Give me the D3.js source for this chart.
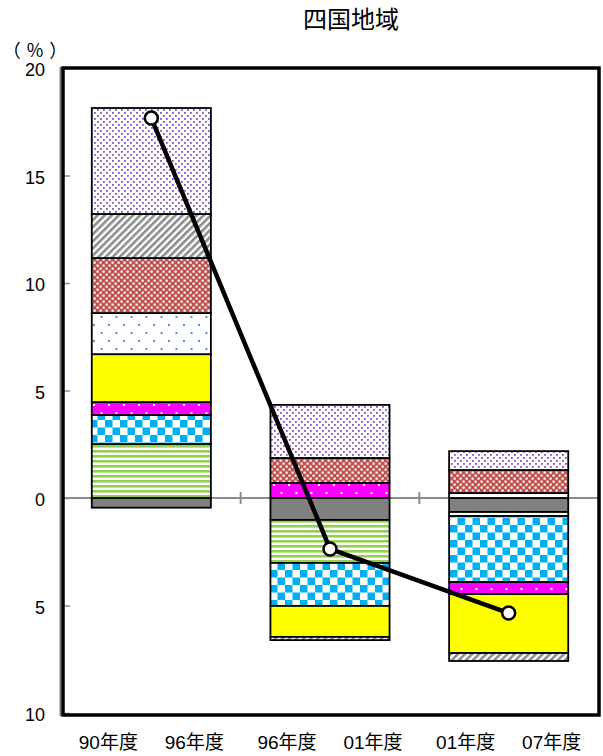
<!DOCTYPE html>
<html><head><meta charset="utf-8">
<script src="https://cdn.jsdelivr.net/npm/d3@7"></script>
<style>body{margin:0;background:#fff}svg{display:block}</style>
</head><body>
<script>
// ---- data ----
const categories = ["90年度〜96年度", "96年度〜01年度", "01年度〜07年度"];
const periodStart = ["90年度", "96年度", "01年度"];
const periodEnd = ["96年度", "01年度", "07年度"];
const seriesKeys = ["系列1","系列2","系列3","系列4","系列5","系列6","系列7","系列8","系列9"];
const s1 = [-0.45, -1.02, -0.65];
const s2 = [2.51, -2.00, -0.19];
const s3 = [1.35, -2.00, -3.07];
const s4 = [0.60, 0.70, -0.56];
const s5 = [2.23, -1.44, -2.74];
const s6 = [1.91, 0.00, 0.23];
const s7 = [2.56, 1.16, 1.07];
const s8 = [2.05, -0.15, -0.37];
const s9 = [4.93, 2.47, 0.88];
const totalLine = [17.67, -2.37, -5.35];
const yTicks = [-10, -5, 0, 5, 10, 15, 20];
const title = "四国地域";
const unitLabel = "（%）";

const seriesValues = [s1,s2,s3,s4,s5,s6,s7,s8,s9];
const rows = categories.map((c,i)=>{
  const r = {cat:c};
  seriesKeys.forEach((k,j)=>r[k]=seriesValues[j][i]);
  return r;
});

const W=603,H=756;
const L=62,R=598,T=68,B=713;
const svg=d3.select("body").append("svg").attr("width",W).attr("height",H);
const defs=svg.append("defs");

function pat(id,w,h,bg,draw,transform){
  const p=defs.append("pattern").attr("id",id).attr("patternUnits","userSpaceOnUse")
    .attr("width",w).attr("height",h);
  if(transform)p.attr("patternTransform",transform);
  p.append("rect").attr("width",w).attr("height",h).attr("fill",bg);
  draw(p);
}
pat("pGreen",5,5,"#fff",p=>p.append("rect").attr("y",0).attr("width",5).attr("height",2.6).attr("fill","#92d050"));
pat("pCheck",15,15,"#fff",p=>{
  p.append("rect").attr("width",7.5).attr("height",7.5).attr("fill","#00b0f0");
  p.append("rect").attr("x",7.5).attr("y",7.5).attr("width",7.5).attr("height",7.5).attr("fill","#00b0f0");
});
pat("pMag",15,16,"#ff00ff",p=>{
  p.append("rect").attr("x",3).attr("y",4).attr("width",2).attr("height",2).attr("fill","#fff");
  p.append("rect").attr("x",10.5).attr("y",12).attr("width",2).attr("height",2).attr("fill","#fff");
});
pat("pBlueDot",15,16,"#fff",p=>{
  p.append("rect").attr("x",3).attr("y",4).attr("width",2).attr("height",2).attr("fill","#5b8fd6");
  p.append("rect").attr("x",10.5).attr("y",12).attr("width",2).attr("height",2).attr("fill","#5b8fd6");
});
pat("pRed",6,6,"#c0504d",p=>{
  p.append("rect").attr("x",0.5).attr("y",0.5).attr("width",2.2).attr("height",2.2).attr("fill","#fff");
  p.append("rect").attr("x",3.5).attr("y",3.5).attr("width",2.2).attr("height",2.2).attr("fill","#fff");
});
pat("pDiag",5,5,"#fff",p=>p.append("rect").attr("width",2.6).attr("height",5).attr("fill","#8c8c8c"),"rotate(45)");
pat("pPurple",6,6,"#fff",p=>{
  p.append("rect").attr("x",1).attr("y",1).attr("width",1.8).attr("height",1.8).attr("fill","#8553c2");
  p.append("rect").attr("x",4).attr("y",4).attr("width",1.8).attr("height",1.8).attr("fill","#8553c2");
});
const fills=["#808080","url(#pGreen)","url(#pCheck)","url(#pMag)","#ffff00","url(#pBlueDot)","url(#pRed)","url(#pDiag)","url(#pPurple)"];

const x=d3.scaleBand().domain(categories).range([L,R]).paddingInner(1/3).paddingOuter(1/6);
const y=d3.scaleLinear().domain([-10,20]).range([B,T]);

// zero line
const y0=y(0);
svg.append("line").attr("x1",L).attr("x2",R).attr("y1",y0).attr("y2",y0)
  .attr("stroke","#8c8c8c").attr("stroke-width",2);
const step=x.step();
d3.range(1,categories.length).forEach(i=>{
  const xx=L+step*i;
  svg.append("line").attr("x1",xx).attr("x2",xx).attr("y1",y0-6).attr("y2",y0+6)
    .attr("stroke","#8c8c8c").attr("stroke-width",2);
});

// stacked bars
const stack=d3.stack().keys(seriesKeys).offset(d3.stackOffsetDiverging);
const layers=stack(rows);
const g=svg.append("g");
layers.forEach((layer,j)=>{
  g.selectAll(null).data(layer.filter(d=>d[1]!==d[0])).enter().append("rect")
    .attr("x",d=>x(d.data.cat))
    .attr("width",x.bandwidth())
    .attr("y",d=>y(Math.max(d[0],d[1])))
    .attr("height",d=>Math.abs(y(d[0])-y(d[1])))
    .attr("fill",fills[j]).attr("stroke","#000").attr("stroke-width",1.8);
});

// y axis
const axis=d3.axisLeft(y).tickValues(yTicks).tickSizeInner(-6).tickSizeOuter(0).tickPadding(18)
  .tickFormat(d=>String(Math.abs(d)));
const ag=svg.append("g").attr("transform",`translate(${L+2},0)`).call(axis);
ag.select(".domain").remove();
ag.selectAll(".tick line").attr("stroke","#8c8c8c").attr("stroke-width",1.5);
ag.selectAll(".tick text").attr("font-family","'Liberation Sans',Arial,sans-serif")
  .attr("font-size",18).attr("fill","#000").attr("dy","0.42em").attr("x",-19);

// frame
svg.append("line").attr("x1",60.5).attr("x2",60.5).attr("y1",T-1).attr("y2",B+3)
  .attr("stroke","#7a7a7a").attr("stroke-width",2);
svg.append("rect").attr("x",63).attr("y",T).attr("width",R-63+1).attr("height",B+2-T)
  .attr("fill","none").attr("stroke","#000").attr("stroke-width",3.5);

// line series
const line=d3.line().x((d,i)=>x(categories[i])+x.bandwidth()/2).y(d=>y(d));
svg.append("path").datum(totalLine).attr("d",line).attr("fill","none")
  .attr("stroke","#000").attr("stroke-width",4.5).attr("stroke-linejoin","round");
svg.selectAll(".pt").data(totalLine).enter().append("circle")
  .attr("cx",(d,i)=>x(categories[i])+x.bandwidth()/2).attr("cy",d=>y(d))
  .attr("r",6.5).attr("fill","#fff").attr("stroke","#000").attr("stroke-width",2.5);

// x labels
const lf="'Liberation Sans','Noto Sans CJK JP',sans-serif";
categories.forEach((c,i)=>{
  const cx=x(c)+x.bandwidth()/2;
  svg.append("text").attr("x",cx-43).attr("y",749).attr("text-anchor","middle")
    .attr("font-family",lf).attr("font-size",19).text(periodStart[i]);
  svg.append("text").attr("x",cx+43).attr("y",749).attr("text-anchor","middle")
    .attr("font-family",lf).attr("font-size",19).text(periodEnd[i]);
});

// title & unit
svg.append("text").attr("x",351).attr("y",28).attr("text-anchor","middle")
  .attr("font-family","'Noto Sans CJK JP',sans-serif").attr("font-size",24).attr("font-weight",400).text(title);
svg.append("text").attr("x",38).attr("y",57).attr("text-anchor","middle")
  .attr("font-family","'Noto Sans CJK JP',sans-serif").attr("font-size",18)
  .attr("letter-spacing",6).text(unitLabel);
</script>
</body></html>
